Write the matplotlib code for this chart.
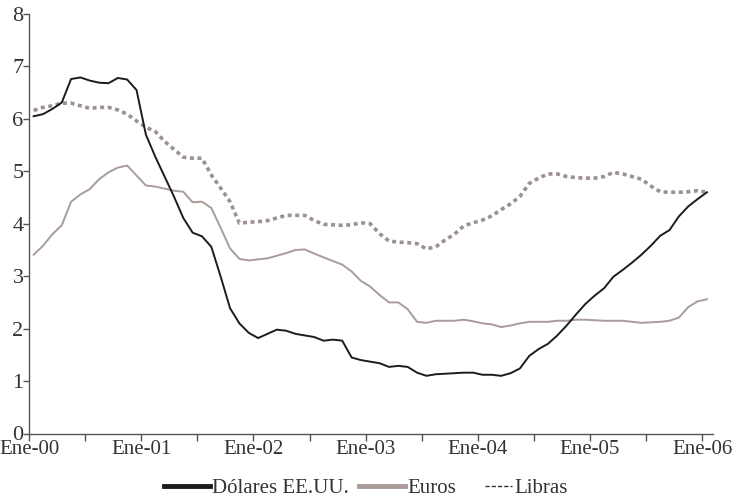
import matplotlib
matplotlib.use("Agg")
import matplotlib.pyplot as plt
from matplotlib.legend_handler import HandlerLine2D
from matplotlib.lines import Line2D
import numpy as np

# ==========================================
# DATA  (monthly, Ene-00 .. Ene-06)
# ==========================================
YEAR_LABELS = ["Ene-00", "Ene-01", "Ene-02", "Ene-03", "Ene-04", "Ene-05", "Ene-06"]

dolares = [
    6.05, 6.09, 6.19, 6.31, 6.76, 6.79, 6.73, 6.69, 6.68, 6.78, 6.75, 6.55,
    5.70, 5.28, 4.90, 4.52, 4.11, 3.83, 3.76, 3.56, 2.99, 2.39, 2.10, 1.92,
    1.82, 1.90, 1.98, 1.96, 1.90, 1.87, 1.84, 1.77, 1.79, 1.77, 1.45, 1.40,
    1.37, 1.34, 1.27, 1.29, 1.27, 1.16, 1.10, 1.13, 1.14, 1.15, 1.16, 1.16,
    1.12, 1.12, 1.10, 1.15, 1.24, 1.48, 1.61, 1.71, 1.87, 2.06, 2.27, 2.47,
    2.63, 2.77, 2.99, 3.12, 3.26, 3.41, 3.58, 3.77, 3.88, 4.14, 4.33, 4.47,
    4.60,
]

euros = [
    3.41, 3.58, 3.80, 3.97, 4.42, 4.56, 4.66, 4.85, 4.98, 5.07, 5.11, 4.92,
    4.73, 4.71, 4.67, 4.63, 4.61, 4.41, 4.42, 4.30, 3.92, 3.53, 3.33, 3.30,
    3.32, 3.34, 3.39, 3.44, 3.50, 3.51, 3.43, 3.36, 3.29, 3.22, 3.09, 2.91,
    2.80, 2.64, 2.50, 2.50, 2.37, 2.13, 2.11, 2.15, 2.15, 2.15, 2.17, 2.14,
    2.10, 2.08, 2.03, 2.06, 2.10, 2.13, 2.13, 2.13, 2.15, 2.15, 2.17, 2.17,
    2.16, 2.15, 2.15, 2.15, 2.13, 2.11, 2.12, 2.13, 2.15, 2.21, 2.41, 2.52,
    2.56,
]

libras = [
    6.16, 6.22, 6.25, 6.30, 6.30, 6.25, 6.20, 6.22, 6.22, 6.17, 6.09, 5.96,
    5.84, 5.76, 5.57, 5.42, 5.27, 5.25, 5.25, 4.93, 4.68, 4.42, 4.01, 4.03,
    4.04, 4.06, 4.11, 4.16, 4.16, 4.16, 4.06, 3.99, 3.98, 3.97, 3.98, 4.02,
    4.00, 3.81, 3.67, 3.65, 3.64, 3.62, 3.52, 3.56, 3.69, 3.80, 3.96, 4.02,
    4.07, 4.15, 4.27, 4.38, 4.52, 4.77, 4.87, 4.95, 4.95, 4.90, 4.88, 4.87,
    4.87, 4.90, 4.98, 4.95, 4.90, 4.85, 4.72, 4.61, 4.60, 4.60, 4.61, 4.63,
    4.60,
]

# ==========================================
# STYLE
# ==========================================
C_DOL = "#1c1c1c"
C_EUR = "#a99c98"
C_LIB = "#9c9190"
C_AXIS = "#555555"
C_TEXT = "#333333"

plt.rcParams["font.family"] = ["Liberation Serif", "DejaVu Serif"]


class ShortHandler(HandlerLine2D):
    """Legend line drawn only on the right part of the handle box."""

    def create_artists(self, legend, orig_handle, xdescent, ydescent,
                       width, height, fontsize, trans):
        artists = super().create_artists(legend, orig_handle, xdescent,
                                         ydescent, width, height, fontsize, trans)
        for a in artists:
            x = np.asarray(a.get_xdata(), dtype=float)
            if len(x) >= 2:
                start = x[0] + 0.42 * (x[-1] - x[0])
                a.set_xdata(np.linspace(start, x[-1], len(x)))
        return artists


fig = plt.figure(figsize=(7.54, 5.0), dpi=100)
ax = fig.add_axes([29 / 754, 66.5 / 500, 684 / 754, 419.5 / 500])

months = np.arange(len(dolares))
ax.plot(months, euros, color=C_EUR, lw=1.4)
ax.plot(months, libras, color=C_LIB, lw=2.6, linestyle=(0, (1.1, 1.0)),
        dash_capstyle="butt")
ax.plot(months, dolares, color=C_DOL, lw=1.4)

ax.set_xlim(-0.5, 72.65)
ax.set_ylim(0, 8)

major = np.arange(len(YEAR_LABELS)) * 12 - 0.5
minor = major[:-1] + 6
ax.set_xticks(major)
ax.set_xticklabels(YEAR_LABELS)
ax.set_xticks(minor, minor=True)
ax.set_yticks(range(0, 9))

for side in ("top", "right"):
    ax.spines[side].set_visible(False)
for side in ("left", "bottom"):
    ax.spines[side].set_color(C_AXIS)
    ax.spines[side].set_linewidth(1.0)

ax.tick_params(axis="x", which="both", direction="out", length=5, width=1,
               color=C_AXIS, labelsize=15, labelcolor=C_TEXT, pad=0)
ax.tick_params(axis="y", direction="out", length=4, width=1, color=C_AXIS,
               labelsize=16, labelcolor=C_TEXT, pad=0)

h_lib = Line2D([], [], color=C_TEXT, lw=1.0, linestyle=(0, (3, 1.5)))
handles = [
    Line2D([], [], color=C_DOL, lw=3.5),
    Line2D([], [], color=C_EUR, lw=3.5),
    h_lib,
]
fig.legend(handles, ["Dólares EE.UU.", "Euros", "Libras"],
           loc="center", bbox_to_anchor=(0.485, 0.024), ncol=3, frameon=False,
           handlelength=2.2, handletextpad=0.1, columnspacing=0.5,
           fontsize=15, labelcolor=C_TEXT,
           handler_map={h_lib: ShortHandler()})

fig.savefig("out.png", dpi=100)
